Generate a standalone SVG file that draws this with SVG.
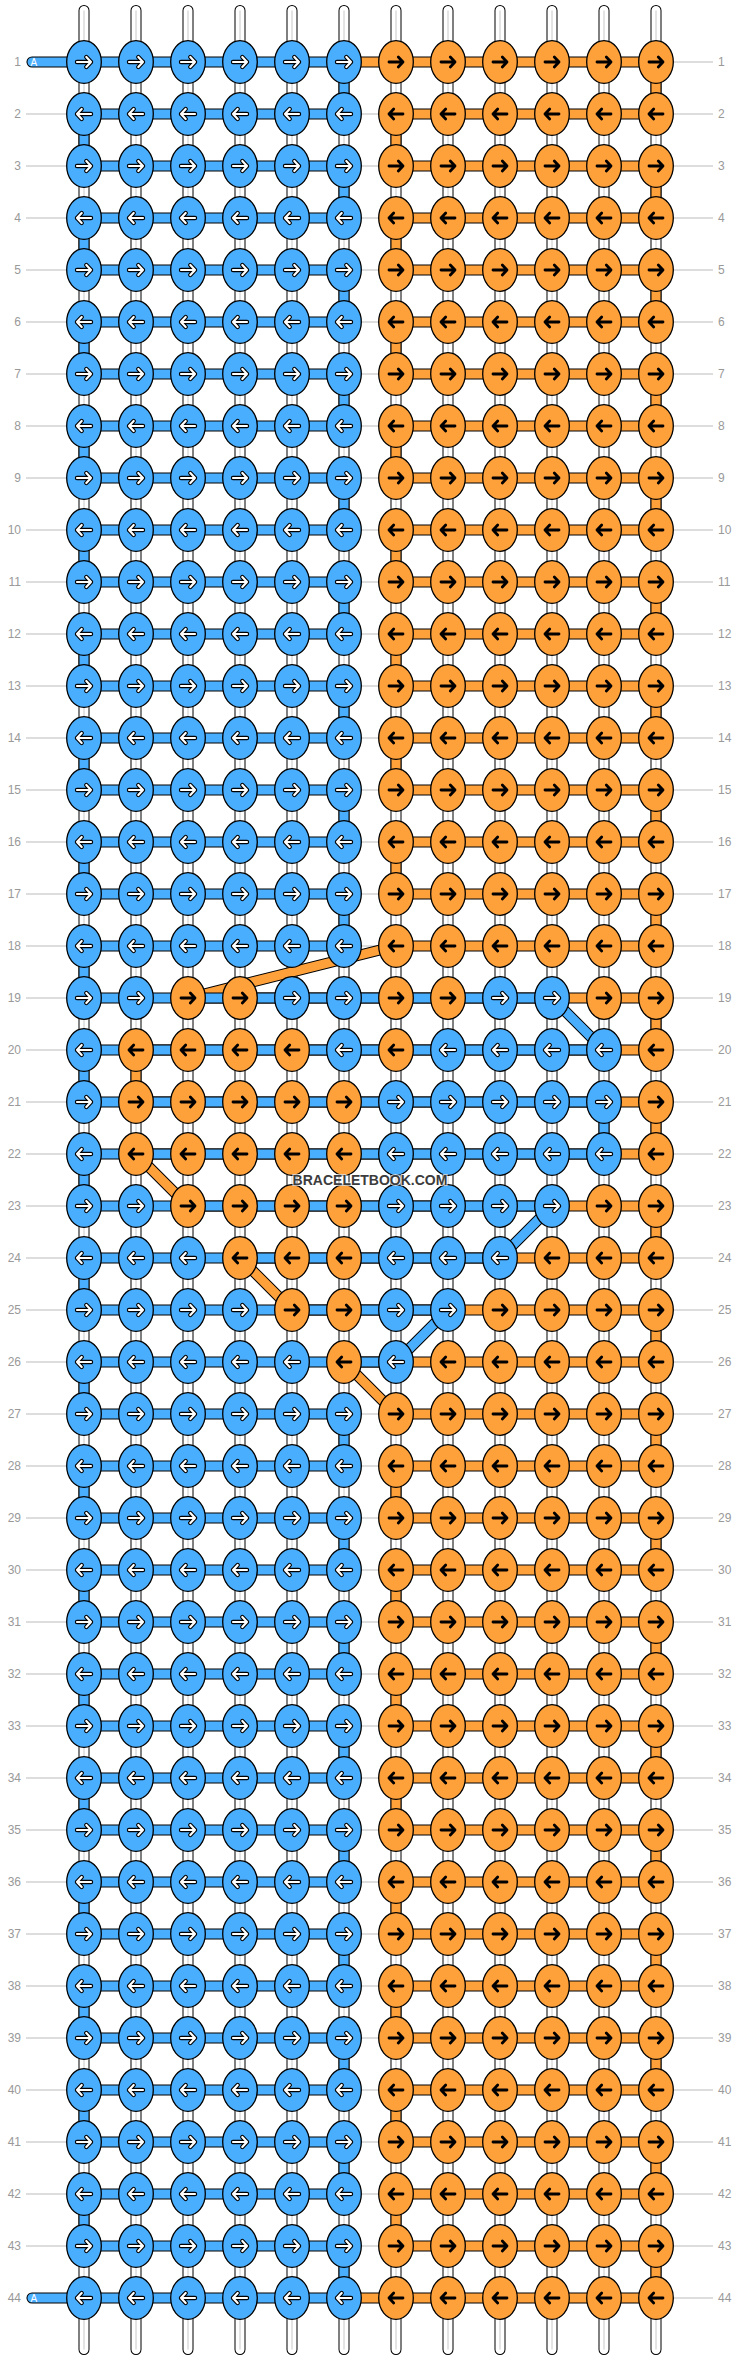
<svg xmlns="http://www.w3.org/2000/svg" xmlns:xlink="http://www.w3.org/1999/xlink" width="740" height="2360" viewBox="0 0 740 2360">
<style>
.rl{fill:none;stroke:#bbb;stroke-width:1}
.wo{fill:none;stroke:#000;stroke-width:11;stroke-linecap:round}
.wf{fill:none;stroke:#fff;stroke-width:9;stroke-linecap:round}
.wc{fill:none;stroke:#c8c8c8;stroke-width:1}
.to{fill:none;stroke:#000;stroke-width:11;stroke-linecap:round;stroke-linejoin:round}
.tb{fill:none;stroke:#4aaefe;stroke-width:9;stroke-linecap:round;stroke-linejoin:round}
.tr{fill:none;stroke:#ffa13b;stroke-width:9;stroke-linecap:round;stroke-linejoin:round}
.kb{fill:#4aaefe;stroke:#000;stroke-width:1.3}
.ko{fill:#ffa13b;stroke:#000;stroke-width:1.3}
.ao{fill:none;stroke:#000;stroke-width:4.4;stroke-linecap:round;stroke-linejoin:round}
.aw{fill:none;stroke:#fff;stroke-width:2.2;stroke-linecap:round;stroke-linejoin:round}
.ak{fill:none;stroke:#000;stroke-width:2.8;stroke-linecap:round;stroke-linejoin:round}
.ll{font-family:"Liberation Sans",Arial,sans-serif;font-size:12px;fill:#999;text-anchor:end}
.lr{font-family:"Liberation Sans",Arial,sans-serif;font-size:12px;fill:#999}
.a{font-family:"Liberation Sans",Arial,sans-serif;font-size:10px;fill:#fff}
.wm{font-family:"Liberation Sans",Arial,sans-serif;font-size:14px;font-weight:bold;fill:#3c3c3c;stroke:#fff;stroke-opacity:0.7;stroke-width:2;paint-order:stroke;text-anchor:middle}
</style>
<defs>
<path id="aR" d="M-7 0H7M2.3-5L7 0L2.3 5"/>
<path id="aL" d="M7 0H-7M-2.3-5L-7 0L-2.3 5"/>
<g id="bR"><ellipse class="kb" rx="17.3" ry="21.3"/><use href="#aR" class="ao"/><use href="#aR" class="aw"/></g>
<g id="bL"><ellipse class="kb" rx="17.3" ry="21.3"/><use href="#aL" class="ao"/><use href="#aL" class="aw"/></g>
<g id="oR"><ellipse class="ko" rx="17.3" ry="21.3"/><use href="#aR" class="ak"/></g>
<g id="oL"><ellipse class="ko" rx="17.3" ry="21.3"/><use href="#aL" class="ak"/></g>
<path id="ws" d="M84 10.5V2349.5M136 10.5V2349.5M188 10.5V2349.5M240 10.5V2349.5M292 10.5V2349.5M344 10.5V2349.5M396 10.5V2349.5M448 10.5V2349.5M500 10.5V2349.5M552 10.5V2349.5M604 10.5V2349.5M656 10.5V2349.5"/>
<path id="tbp" d="M32 62H344V114H84V166H344V218H84V270H344V322H84V374H344V426H84V478H344V530H84V582H344V634H84V686H344V738H84V790H344V842H84V894H344V946H84V998H552L604 1050H84V1102H604V1154H84V1206H552L500 1258H84V1310H448L396 1362H84V1414H344V1466H84V1518H344V1570H84V1622H344V1674H84V1726H344V1778H84V1830H344V1882H84V1934H344V1986H84V2038H344V2090H84V2142H344V2194H84V2246H344V2298H32"/>
<path id="top" d="M344 62H656V114H396V166H656V218H396V270H656V322H396V374H656V426H396V478H656V530H396V582H656V634H396V686H656V738H396V790H656V842H396V894H656V946H396L188 998H656V1050H136V1102H656V1154H136L188 1206H656V1258H240L292 1310H656V1362H344L396 1414H656V1466H396V1518H656V1570H396V1622H656V1674H396V1726H656V1778H396V1830H656V1882H396V1934H656V1986H396V2038H656V2090H396V2142H656V2194H396V2246H656V2298H344"/>
</defs>
<rect width="740" height="2360" fill="#fff"/>
<g id="connectors">
<path class="rl" d="M26 62H713M26 114H713M26 166H713M26 218H713M26 270H713M26 322H713M26 374H713M26 426H713M26 478H713M26 530H713M26 582H713M26 634H713M26 686H713M26 738H713M26 790H713M26 842H713M26 894H713M26 946H713M26 998H713M26 1050H713M26 1102H713M26 1154H713M26 1206H713M26 1258H713M26 1310H713M26 1362H713M26 1414H713M26 1466H713M26 1518H713M26 1570H713M26 1622H713M26 1674H713M26 1726H713M26 1778H713M26 1830H713M26 1882H713M26 1934H713M26 1986H713M26 2038H713M26 2090H713M26 2142H713M26 2194H713M26 2246H713M26 2298H713"/>
<use href="#ws" class="wo"/><use href="#ws" class="wf"/><use href="#ws" class="wc"/>
<use href="#top" class="to"/><use href="#top" class="tr"/>
<use href="#tbp" class="to"/><use href="#tbp" class="tb"/>
<text class="a" x="30.5" y="65.5">A</text>
<text class="a" x="30.5" y="2301.5">A</text>
</g>
<g id="labels">
<text class="ll" x="21" y="66">1</text><text class="lr" x="718" y="66">1</text>
<text class="ll" x="21" y="118">2</text><text class="lr" x="718" y="118">2</text>
<text class="ll" x="21" y="170">3</text><text class="lr" x="718" y="170">3</text>
<text class="ll" x="21" y="222">4</text><text class="lr" x="718" y="222">4</text>
<text class="ll" x="21" y="274">5</text><text class="lr" x="718" y="274">5</text>
<text class="ll" x="21" y="326">6</text><text class="lr" x="718" y="326">6</text>
<text class="ll" x="21" y="378">7</text><text class="lr" x="718" y="378">7</text>
<text class="ll" x="21" y="430">8</text><text class="lr" x="718" y="430">8</text>
<text class="ll" x="21" y="482">9</text><text class="lr" x="718" y="482">9</text>
<text class="ll" x="21" y="534">10</text><text class="lr" x="718" y="534">10</text>
<text class="ll" x="21" y="586">11</text><text class="lr" x="718" y="586">11</text>
<text class="ll" x="21" y="638">12</text><text class="lr" x="718" y="638">12</text>
<text class="ll" x="21" y="690">13</text><text class="lr" x="718" y="690">13</text>
<text class="ll" x="21" y="742">14</text><text class="lr" x="718" y="742">14</text>
<text class="ll" x="21" y="794">15</text><text class="lr" x="718" y="794">15</text>
<text class="ll" x="21" y="846">16</text><text class="lr" x="718" y="846">16</text>
<text class="ll" x="21" y="898">17</text><text class="lr" x="718" y="898">17</text>
<text class="ll" x="21" y="950">18</text><text class="lr" x="718" y="950">18</text>
<text class="ll" x="21" y="1002">19</text><text class="lr" x="718" y="1002">19</text>
<text class="ll" x="21" y="1054">20</text><text class="lr" x="718" y="1054">20</text>
<text class="ll" x="21" y="1106">21</text><text class="lr" x="718" y="1106">21</text>
<text class="ll" x="21" y="1158">22</text><text class="lr" x="718" y="1158">22</text>
<text class="ll" x="21" y="1210">23</text><text class="lr" x="718" y="1210">23</text>
<text class="ll" x="21" y="1262">24</text><text class="lr" x="718" y="1262">24</text>
<text class="ll" x="21" y="1314">25</text><text class="lr" x="718" y="1314">25</text>
<text class="ll" x="21" y="1366">26</text><text class="lr" x="718" y="1366">26</text>
<text class="ll" x="21" y="1418">27</text><text class="lr" x="718" y="1418">27</text>
<text class="ll" x="21" y="1470">28</text><text class="lr" x="718" y="1470">28</text>
<text class="ll" x="21" y="1522">29</text><text class="lr" x="718" y="1522">29</text>
<text class="ll" x="21" y="1574">30</text><text class="lr" x="718" y="1574">30</text>
<text class="ll" x="21" y="1626">31</text><text class="lr" x="718" y="1626">31</text>
<text class="ll" x="21" y="1678">32</text><text class="lr" x="718" y="1678">32</text>
<text class="ll" x="21" y="1730">33</text><text class="lr" x="718" y="1730">33</text>
<text class="ll" x="21" y="1782">34</text><text class="lr" x="718" y="1782">34</text>
<text class="ll" x="21" y="1834">35</text><text class="lr" x="718" y="1834">35</text>
<text class="ll" x="21" y="1886">36</text><text class="lr" x="718" y="1886">36</text>
<text class="ll" x="21" y="1938">37</text><text class="lr" x="718" y="1938">37</text>
<text class="ll" x="21" y="1990">38</text><text class="lr" x="718" y="1990">38</text>
<text class="ll" x="21" y="2042">39</text><text class="lr" x="718" y="2042">39</text>
<text class="ll" x="21" y="2094">40</text><text class="lr" x="718" y="2094">40</text>
<text class="ll" x="21" y="2146">41</text><text class="lr" x="718" y="2146">41</text>
<text class="ll" x="21" y="2198">42</text><text class="lr" x="718" y="2198">42</text>
<text class="ll" x="21" y="2250">43</text><text class="lr" x="718" y="2250">43</text>
<text class="ll" x="21" y="2302">44</text><text class="lr" x="718" y="2302">44</text>
</g>
<g id="knots">
<g id="row1" transform="translate(0,62)"><g id="k1-1"><use href="#bR" x="84"/></g><g id="k1-2"><use href="#bR" x="136"/></g><g id="k1-3"><use href="#bR" x="188"/></g><g id="k1-4"><use href="#bR" x="240"/></g><g id="k1-5"><use href="#bR" x="292"/></g><g id="k1-6"><use href="#bR" x="344"/></g><g id="k1-7"><use href="#oR" x="396"/></g><g id="k1-8"><use href="#oR" x="448"/></g><g id="k1-9"><use href="#oR" x="500"/></g><g id="k1-10"><use href="#oR" x="552"/></g><g id="k1-11"><use href="#oR" x="604"/></g><g id="k1-12"><use href="#oR" x="656"/></g></g>
<g id="row2" transform="translate(0,114)"><g id="k2-1"><use href="#bL" x="84"/></g><g id="k2-2"><use href="#bL" x="136"/></g><g id="k2-3"><use href="#bL" x="188"/></g><g id="k2-4"><use href="#bL" x="240"/></g><g id="k2-5"><use href="#bL" x="292"/></g><g id="k2-6"><use href="#bL" x="344"/></g><g id="k2-7"><use href="#oL" x="396"/></g><g id="k2-8"><use href="#oL" x="448"/></g><g id="k2-9"><use href="#oL" x="500"/></g><g id="k2-10"><use href="#oL" x="552"/></g><g id="k2-11"><use href="#oL" x="604"/></g><g id="k2-12"><use href="#oL" x="656"/></g></g>
<g id="row3" transform="translate(0,166)"><g id="k3-1"><use href="#bR" x="84"/></g><g id="k3-2"><use href="#bR" x="136"/></g><g id="k3-3"><use href="#bR" x="188"/></g><g id="k3-4"><use href="#bR" x="240"/></g><g id="k3-5"><use href="#bR" x="292"/></g><g id="k3-6"><use href="#bR" x="344"/></g><g id="k3-7"><use href="#oR" x="396"/></g><g id="k3-8"><use href="#oR" x="448"/></g><g id="k3-9"><use href="#oR" x="500"/></g><g id="k3-10"><use href="#oR" x="552"/></g><g id="k3-11"><use href="#oR" x="604"/></g><g id="k3-12"><use href="#oR" x="656"/></g></g>
<g id="row4" transform="translate(0,218)"><g id="k4-1"><use href="#bL" x="84"/></g><g id="k4-2"><use href="#bL" x="136"/></g><g id="k4-3"><use href="#bL" x="188"/></g><g id="k4-4"><use href="#bL" x="240"/></g><g id="k4-5"><use href="#bL" x="292"/></g><g id="k4-6"><use href="#bL" x="344"/></g><g id="k4-7"><use href="#oL" x="396"/></g><g id="k4-8"><use href="#oL" x="448"/></g><g id="k4-9"><use href="#oL" x="500"/></g><g id="k4-10"><use href="#oL" x="552"/></g><g id="k4-11"><use href="#oL" x="604"/></g><g id="k4-12"><use href="#oL" x="656"/></g></g>
<g id="row5" transform="translate(0,270)"><g id="k5-1"><use href="#bR" x="84"/></g><g id="k5-2"><use href="#bR" x="136"/></g><g id="k5-3"><use href="#bR" x="188"/></g><g id="k5-4"><use href="#bR" x="240"/></g><g id="k5-5"><use href="#bR" x="292"/></g><g id="k5-6"><use href="#bR" x="344"/></g><g id="k5-7"><use href="#oR" x="396"/></g><g id="k5-8"><use href="#oR" x="448"/></g><g id="k5-9"><use href="#oR" x="500"/></g><g id="k5-10"><use href="#oR" x="552"/></g><g id="k5-11"><use href="#oR" x="604"/></g><g id="k5-12"><use href="#oR" x="656"/></g></g>
<g id="row6" transform="translate(0,322)"><g id="k6-1"><use href="#bL" x="84"/></g><g id="k6-2"><use href="#bL" x="136"/></g><g id="k6-3"><use href="#bL" x="188"/></g><g id="k6-4"><use href="#bL" x="240"/></g><g id="k6-5"><use href="#bL" x="292"/></g><g id="k6-6"><use href="#bL" x="344"/></g><g id="k6-7"><use href="#oL" x="396"/></g><g id="k6-8"><use href="#oL" x="448"/></g><g id="k6-9"><use href="#oL" x="500"/></g><g id="k6-10"><use href="#oL" x="552"/></g><g id="k6-11"><use href="#oL" x="604"/></g><g id="k6-12"><use href="#oL" x="656"/></g></g>
<g id="row7" transform="translate(0,374)"><g id="k7-1"><use href="#bR" x="84"/></g><g id="k7-2"><use href="#bR" x="136"/></g><g id="k7-3"><use href="#bR" x="188"/></g><g id="k7-4"><use href="#bR" x="240"/></g><g id="k7-5"><use href="#bR" x="292"/></g><g id="k7-6"><use href="#bR" x="344"/></g><g id="k7-7"><use href="#oR" x="396"/></g><g id="k7-8"><use href="#oR" x="448"/></g><g id="k7-9"><use href="#oR" x="500"/></g><g id="k7-10"><use href="#oR" x="552"/></g><g id="k7-11"><use href="#oR" x="604"/></g><g id="k7-12"><use href="#oR" x="656"/></g></g>
<g id="row8" transform="translate(0,426)"><g id="k8-1"><use href="#bL" x="84"/></g><g id="k8-2"><use href="#bL" x="136"/></g><g id="k8-3"><use href="#bL" x="188"/></g><g id="k8-4"><use href="#bL" x="240"/></g><g id="k8-5"><use href="#bL" x="292"/></g><g id="k8-6"><use href="#bL" x="344"/></g><g id="k8-7"><use href="#oL" x="396"/></g><g id="k8-8"><use href="#oL" x="448"/></g><g id="k8-9"><use href="#oL" x="500"/></g><g id="k8-10"><use href="#oL" x="552"/></g><g id="k8-11"><use href="#oL" x="604"/></g><g id="k8-12"><use href="#oL" x="656"/></g></g>
<g id="row9" transform="translate(0,478)"><g id="k9-1"><use href="#bR" x="84"/></g><g id="k9-2"><use href="#bR" x="136"/></g><g id="k9-3"><use href="#bR" x="188"/></g><g id="k9-4"><use href="#bR" x="240"/></g><g id="k9-5"><use href="#bR" x="292"/></g><g id="k9-6"><use href="#bR" x="344"/></g><g id="k9-7"><use href="#oR" x="396"/></g><g id="k9-8"><use href="#oR" x="448"/></g><g id="k9-9"><use href="#oR" x="500"/></g><g id="k9-10"><use href="#oR" x="552"/></g><g id="k9-11"><use href="#oR" x="604"/></g><g id="k9-12"><use href="#oR" x="656"/></g></g>
<g id="row10" transform="translate(0,530)"><g id="k10-1"><use href="#bL" x="84"/></g><g id="k10-2"><use href="#bL" x="136"/></g><g id="k10-3"><use href="#bL" x="188"/></g><g id="k10-4"><use href="#bL" x="240"/></g><g id="k10-5"><use href="#bL" x="292"/></g><g id="k10-6"><use href="#bL" x="344"/></g><g id="k10-7"><use href="#oL" x="396"/></g><g id="k10-8"><use href="#oL" x="448"/></g><g id="k10-9"><use href="#oL" x="500"/></g><g id="k10-10"><use href="#oL" x="552"/></g><g id="k10-11"><use href="#oL" x="604"/></g><g id="k10-12"><use href="#oL" x="656"/></g></g>
<g id="row11" transform="translate(0,582)"><g id="k11-1"><use href="#bR" x="84"/></g><g id="k11-2"><use href="#bR" x="136"/></g><g id="k11-3"><use href="#bR" x="188"/></g><g id="k11-4"><use href="#bR" x="240"/></g><g id="k11-5"><use href="#bR" x="292"/></g><g id="k11-6"><use href="#bR" x="344"/></g><g id="k11-7"><use href="#oR" x="396"/></g><g id="k11-8"><use href="#oR" x="448"/></g><g id="k11-9"><use href="#oR" x="500"/></g><g id="k11-10"><use href="#oR" x="552"/></g><g id="k11-11"><use href="#oR" x="604"/></g><g id="k11-12"><use href="#oR" x="656"/></g></g>
<g id="row12" transform="translate(0,634)"><g id="k12-1"><use href="#bL" x="84"/></g><g id="k12-2"><use href="#bL" x="136"/></g><g id="k12-3"><use href="#bL" x="188"/></g><g id="k12-4"><use href="#bL" x="240"/></g><g id="k12-5"><use href="#bL" x="292"/></g><g id="k12-6"><use href="#bL" x="344"/></g><g id="k12-7"><use href="#oL" x="396"/></g><g id="k12-8"><use href="#oL" x="448"/></g><g id="k12-9"><use href="#oL" x="500"/></g><g id="k12-10"><use href="#oL" x="552"/></g><g id="k12-11"><use href="#oL" x="604"/></g><g id="k12-12"><use href="#oL" x="656"/></g></g>
<g id="row13" transform="translate(0,686)"><g id="k13-1"><use href="#bR" x="84"/></g><g id="k13-2"><use href="#bR" x="136"/></g><g id="k13-3"><use href="#bR" x="188"/></g><g id="k13-4"><use href="#bR" x="240"/></g><g id="k13-5"><use href="#bR" x="292"/></g><g id="k13-6"><use href="#bR" x="344"/></g><g id="k13-7"><use href="#oR" x="396"/></g><g id="k13-8"><use href="#oR" x="448"/></g><g id="k13-9"><use href="#oR" x="500"/></g><g id="k13-10"><use href="#oR" x="552"/></g><g id="k13-11"><use href="#oR" x="604"/></g><g id="k13-12"><use href="#oR" x="656"/></g></g>
<g id="row14" transform="translate(0,738)"><g id="k14-1"><use href="#bL" x="84"/></g><g id="k14-2"><use href="#bL" x="136"/></g><g id="k14-3"><use href="#bL" x="188"/></g><g id="k14-4"><use href="#bL" x="240"/></g><g id="k14-5"><use href="#bL" x="292"/></g><g id="k14-6"><use href="#bL" x="344"/></g><g id="k14-7"><use href="#oL" x="396"/></g><g id="k14-8"><use href="#oL" x="448"/></g><g id="k14-9"><use href="#oL" x="500"/></g><g id="k14-10"><use href="#oL" x="552"/></g><g id="k14-11"><use href="#oL" x="604"/></g><g id="k14-12"><use href="#oL" x="656"/></g></g>
<g id="row15" transform="translate(0,790)"><g id="k15-1"><use href="#bR" x="84"/></g><g id="k15-2"><use href="#bR" x="136"/></g><g id="k15-3"><use href="#bR" x="188"/></g><g id="k15-4"><use href="#bR" x="240"/></g><g id="k15-5"><use href="#bR" x="292"/></g><g id="k15-6"><use href="#bR" x="344"/></g><g id="k15-7"><use href="#oR" x="396"/></g><g id="k15-8"><use href="#oR" x="448"/></g><g id="k15-9"><use href="#oR" x="500"/></g><g id="k15-10"><use href="#oR" x="552"/></g><g id="k15-11"><use href="#oR" x="604"/></g><g id="k15-12"><use href="#oR" x="656"/></g></g>
<g id="row16" transform="translate(0,842)"><g id="k16-1"><use href="#bL" x="84"/></g><g id="k16-2"><use href="#bL" x="136"/></g><g id="k16-3"><use href="#bL" x="188"/></g><g id="k16-4"><use href="#bL" x="240"/></g><g id="k16-5"><use href="#bL" x="292"/></g><g id="k16-6"><use href="#bL" x="344"/></g><g id="k16-7"><use href="#oL" x="396"/></g><g id="k16-8"><use href="#oL" x="448"/></g><g id="k16-9"><use href="#oL" x="500"/></g><g id="k16-10"><use href="#oL" x="552"/></g><g id="k16-11"><use href="#oL" x="604"/></g><g id="k16-12"><use href="#oL" x="656"/></g></g>
<g id="row17" transform="translate(0,894)"><g id="k17-1"><use href="#bR" x="84"/></g><g id="k17-2"><use href="#bR" x="136"/></g><g id="k17-3"><use href="#bR" x="188"/></g><g id="k17-4"><use href="#bR" x="240"/></g><g id="k17-5"><use href="#bR" x="292"/></g><g id="k17-6"><use href="#bR" x="344"/></g><g id="k17-7"><use href="#oR" x="396"/></g><g id="k17-8"><use href="#oR" x="448"/></g><g id="k17-9"><use href="#oR" x="500"/></g><g id="k17-10"><use href="#oR" x="552"/></g><g id="k17-11"><use href="#oR" x="604"/></g><g id="k17-12"><use href="#oR" x="656"/></g></g>
<g id="row18" transform="translate(0,946)"><g id="k18-1"><use href="#bL" x="84"/></g><g id="k18-2"><use href="#bL" x="136"/></g><g id="k18-3"><use href="#bL" x="188"/></g><g id="k18-4"><use href="#bL" x="240"/></g><g id="k18-5"><use href="#bL" x="292"/></g><g id="k18-6"><use href="#bL" x="344"/></g><g id="k18-7"><use href="#oL" x="396"/></g><g id="k18-8"><use href="#oL" x="448"/></g><g id="k18-9"><use href="#oL" x="500"/></g><g id="k18-10"><use href="#oL" x="552"/></g><g id="k18-11"><use href="#oL" x="604"/></g><g id="k18-12"><use href="#oL" x="656"/></g></g>
<g id="row19" transform="translate(0,998)"><g id="k19-1"><use href="#bR" x="84"/></g><g id="k19-2"><use href="#bR" x="136"/></g><g id="k19-3"><use href="#oR" x="188"/></g><g id="k19-4"><use href="#oR" x="240"/></g><g id="k19-5"><use href="#bR" x="292"/></g><g id="k19-6"><use href="#bR" x="344"/></g><g id="k19-7"><use href="#oR" x="396"/></g><g id="k19-8"><use href="#oR" x="448"/></g><g id="k19-9"><use href="#bR" x="500"/></g><g id="k19-10"><use href="#bR" x="552"/></g><g id="k19-11"><use href="#oR" x="604"/></g><g id="k19-12"><use href="#oR" x="656"/></g></g>
<g id="row20" transform="translate(0,1050)"><g id="k20-1"><use href="#bL" x="84"/></g><g id="k20-2"><use href="#oL" x="136"/></g><g id="k20-3"><use href="#oL" x="188"/></g><g id="k20-4"><use href="#oL" x="240"/></g><g id="k20-5"><use href="#oL" x="292"/></g><g id="k20-6"><use href="#bL" x="344"/></g><g id="k20-7"><use href="#oL" x="396"/></g><g id="k20-8"><use href="#bL" x="448"/></g><g id="k20-9"><use href="#bL" x="500"/></g><g id="k20-10"><use href="#bL" x="552"/></g><g id="k20-11"><use href="#bL" x="604"/></g><g id="k20-12"><use href="#oL" x="656"/></g></g>
<g id="row21" transform="translate(0,1102)"><g id="k21-1"><use href="#bR" x="84"/></g><g id="k21-2"><use href="#oR" x="136"/></g><g id="k21-3"><use href="#oR" x="188"/></g><g id="k21-4"><use href="#oR" x="240"/></g><g id="k21-5"><use href="#oR" x="292"/></g><g id="k21-6"><use href="#oR" x="344"/></g><g id="k21-7"><use href="#bR" x="396"/></g><g id="k21-8"><use href="#bR" x="448"/></g><g id="k21-9"><use href="#bR" x="500"/></g><g id="k21-10"><use href="#bR" x="552"/></g><g id="k21-11"><use href="#bR" x="604"/></g><g id="k21-12"><use href="#oR" x="656"/></g></g>
<g id="row22" transform="translate(0,1154)"><g id="k22-1"><use href="#bL" x="84"/></g><g id="k22-2"><use href="#oL" x="136"/></g><g id="k22-3"><use href="#oL" x="188"/></g><g id="k22-4"><use href="#oL" x="240"/></g><g id="k22-5"><use href="#oL" x="292"/></g><g id="k22-6"><use href="#oL" x="344"/></g><g id="k22-7"><use href="#bL" x="396"/></g><g id="k22-8"><use href="#bL" x="448"/></g><g id="k22-9"><use href="#bL" x="500"/></g><g id="k22-10"><use href="#bL" x="552"/></g><g id="k22-11"><use href="#bL" x="604"/></g><g id="k22-12"><use href="#oL" x="656"/></g></g>
<g id="row23" transform="translate(0,1206)"><g id="k23-1"><use href="#bR" x="84"/></g><g id="k23-2"><use href="#bR" x="136"/></g><g id="k23-3"><use href="#oR" x="188"/></g><g id="k23-4"><use href="#oR" x="240"/></g><g id="k23-5"><use href="#oR" x="292"/></g><g id="k23-6"><use href="#oR" x="344"/></g><g id="k23-7"><use href="#bR" x="396"/></g><g id="k23-8"><use href="#bR" x="448"/></g><g id="k23-9"><use href="#bR" x="500"/></g><g id="k23-10"><use href="#bR" x="552"/></g><g id="k23-11"><use href="#oR" x="604"/></g><g id="k23-12"><use href="#oR" x="656"/></g></g>
<g id="row24" transform="translate(0,1258)"><g id="k24-1"><use href="#bL" x="84"/></g><g id="k24-2"><use href="#bL" x="136"/></g><g id="k24-3"><use href="#bL" x="188"/></g><g id="k24-4"><use href="#oL" x="240"/></g><g id="k24-5"><use href="#oL" x="292"/></g><g id="k24-6"><use href="#oL" x="344"/></g><g id="k24-7"><use href="#bL" x="396"/></g><g id="k24-8"><use href="#bL" x="448"/></g><g id="k24-9"><use href="#bL" x="500"/></g><g id="k24-10"><use href="#oL" x="552"/></g><g id="k24-11"><use href="#oL" x="604"/></g><g id="k24-12"><use href="#oL" x="656"/></g></g>
<g id="row25" transform="translate(0,1310)"><g id="k25-1"><use href="#bR" x="84"/></g><g id="k25-2"><use href="#bR" x="136"/></g><g id="k25-3"><use href="#bR" x="188"/></g><g id="k25-4"><use href="#bR" x="240"/></g><g id="k25-5"><use href="#oR" x="292"/></g><g id="k25-6"><use href="#oR" x="344"/></g><g id="k25-7"><use href="#bR" x="396"/></g><g id="k25-8"><use href="#bR" x="448"/></g><g id="k25-9"><use href="#oR" x="500"/></g><g id="k25-10"><use href="#oR" x="552"/></g><g id="k25-11"><use href="#oR" x="604"/></g><g id="k25-12"><use href="#oR" x="656"/></g></g>
<g id="row26" transform="translate(0,1362)"><g id="k26-1"><use href="#bL" x="84"/></g><g id="k26-2"><use href="#bL" x="136"/></g><g id="k26-3"><use href="#bL" x="188"/></g><g id="k26-4"><use href="#bL" x="240"/></g><g id="k26-5"><use href="#bL" x="292"/></g><g id="k26-6"><use href="#oL" x="344"/></g><g id="k26-7"><use href="#bL" x="396"/></g><g id="k26-8"><use href="#oL" x="448"/></g><g id="k26-9"><use href="#oL" x="500"/></g><g id="k26-10"><use href="#oL" x="552"/></g><g id="k26-11"><use href="#oL" x="604"/></g><g id="k26-12"><use href="#oL" x="656"/></g></g>
<g id="row27" transform="translate(0,1414)"><g id="k27-1"><use href="#bR" x="84"/></g><g id="k27-2"><use href="#bR" x="136"/></g><g id="k27-3"><use href="#bR" x="188"/></g><g id="k27-4"><use href="#bR" x="240"/></g><g id="k27-5"><use href="#bR" x="292"/></g><g id="k27-6"><use href="#bR" x="344"/></g><g id="k27-7"><use href="#oR" x="396"/></g><g id="k27-8"><use href="#oR" x="448"/></g><g id="k27-9"><use href="#oR" x="500"/></g><g id="k27-10"><use href="#oR" x="552"/></g><g id="k27-11"><use href="#oR" x="604"/></g><g id="k27-12"><use href="#oR" x="656"/></g></g>
<g id="row28" transform="translate(0,1466)"><g id="k28-1"><use href="#bL" x="84"/></g><g id="k28-2"><use href="#bL" x="136"/></g><g id="k28-3"><use href="#bL" x="188"/></g><g id="k28-4"><use href="#bL" x="240"/></g><g id="k28-5"><use href="#bL" x="292"/></g><g id="k28-6"><use href="#bL" x="344"/></g><g id="k28-7"><use href="#oL" x="396"/></g><g id="k28-8"><use href="#oL" x="448"/></g><g id="k28-9"><use href="#oL" x="500"/></g><g id="k28-10"><use href="#oL" x="552"/></g><g id="k28-11"><use href="#oL" x="604"/></g><g id="k28-12"><use href="#oL" x="656"/></g></g>
<g id="row29" transform="translate(0,1518)"><g id="k29-1"><use href="#bR" x="84"/></g><g id="k29-2"><use href="#bR" x="136"/></g><g id="k29-3"><use href="#bR" x="188"/></g><g id="k29-4"><use href="#bR" x="240"/></g><g id="k29-5"><use href="#bR" x="292"/></g><g id="k29-6"><use href="#bR" x="344"/></g><g id="k29-7"><use href="#oR" x="396"/></g><g id="k29-8"><use href="#oR" x="448"/></g><g id="k29-9"><use href="#oR" x="500"/></g><g id="k29-10"><use href="#oR" x="552"/></g><g id="k29-11"><use href="#oR" x="604"/></g><g id="k29-12"><use href="#oR" x="656"/></g></g>
<g id="row30" transform="translate(0,1570)"><g id="k30-1"><use href="#bL" x="84"/></g><g id="k30-2"><use href="#bL" x="136"/></g><g id="k30-3"><use href="#bL" x="188"/></g><g id="k30-4"><use href="#bL" x="240"/></g><g id="k30-5"><use href="#bL" x="292"/></g><g id="k30-6"><use href="#bL" x="344"/></g><g id="k30-7"><use href="#oL" x="396"/></g><g id="k30-8"><use href="#oL" x="448"/></g><g id="k30-9"><use href="#oL" x="500"/></g><g id="k30-10"><use href="#oL" x="552"/></g><g id="k30-11"><use href="#oL" x="604"/></g><g id="k30-12"><use href="#oL" x="656"/></g></g>
<g id="row31" transform="translate(0,1622)"><g id="k31-1"><use href="#bR" x="84"/></g><g id="k31-2"><use href="#bR" x="136"/></g><g id="k31-3"><use href="#bR" x="188"/></g><g id="k31-4"><use href="#bR" x="240"/></g><g id="k31-5"><use href="#bR" x="292"/></g><g id="k31-6"><use href="#bR" x="344"/></g><g id="k31-7"><use href="#oR" x="396"/></g><g id="k31-8"><use href="#oR" x="448"/></g><g id="k31-9"><use href="#oR" x="500"/></g><g id="k31-10"><use href="#oR" x="552"/></g><g id="k31-11"><use href="#oR" x="604"/></g><g id="k31-12"><use href="#oR" x="656"/></g></g>
<g id="row32" transform="translate(0,1674)"><g id="k32-1"><use href="#bL" x="84"/></g><g id="k32-2"><use href="#bL" x="136"/></g><g id="k32-3"><use href="#bL" x="188"/></g><g id="k32-4"><use href="#bL" x="240"/></g><g id="k32-5"><use href="#bL" x="292"/></g><g id="k32-6"><use href="#bL" x="344"/></g><g id="k32-7"><use href="#oL" x="396"/></g><g id="k32-8"><use href="#oL" x="448"/></g><g id="k32-9"><use href="#oL" x="500"/></g><g id="k32-10"><use href="#oL" x="552"/></g><g id="k32-11"><use href="#oL" x="604"/></g><g id="k32-12"><use href="#oL" x="656"/></g></g>
<g id="row33" transform="translate(0,1726)"><g id="k33-1"><use href="#bR" x="84"/></g><g id="k33-2"><use href="#bR" x="136"/></g><g id="k33-3"><use href="#bR" x="188"/></g><g id="k33-4"><use href="#bR" x="240"/></g><g id="k33-5"><use href="#bR" x="292"/></g><g id="k33-6"><use href="#bR" x="344"/></g><g id="k33-7"><use href="#oR" x="396"/></g><g id="k33-8"><use href="#oR" x="448"/></g><g id="k33-9"><use href="#oR" x="500"/></g><g id="k33-10"><use href="#oR" x="552"/></g><g id="k33-11"><use href="#oR" x="604"/></g><g id="k33-12"><use href="#oR" x="656"/></g></g>
<g id="row34" transform="translate(0,1778)"><g id="k34-1"><use href="#bL" x="84"/></g><g id="k34-2"><use href="#bL" x="136"/></g><g id="k34-3"><use href="#bL" x="188"/></g><g id="k34-4"><use href="#bL" x="240"/></g><g id="k34-5"><use href="#bL" x="292"/></g><g id="k34-6"><use href="#bL" x="344"/></g><g id="k34-7"><use href="#oL" x="396"/></g><g id="k34-8"><use href="#oL" x="448"/></g><g id="k34-9"><use href="#oL" x="500"/></g><g id="k34-10"><use href="#oL" x="552"/></g><g id="k34-11"><use href="#oL" x="604"/></g><g id="k34-12"><use href="#oL" x="656"/></g></g>
<g id="row35" transform="translate(0,1830)"><g id="k35-1"><use href="#bR" x="84"/></g><g id="k35-2"><use href="#bR" x="136"/></g><g id="k35-3"><use href="#bR" x="188"/></g><g id="k35-4"><use href="#bR" x="240"/></g><g id="k35-5"><use href="#bR" x="292"/></g><g id="k35-6"><use href="#bR" x="344"/></g><g id="k35-7"><use href="#oR" x="396"/></g><g id="k35-8"><use href="#oR" x="448"/></g><g id="k35-9"><use href="#oR" x="500"/></g><g id="k35-10"><use href="#oR" x="552"/></g><g id="k35-11"><use href="#oR" x="604"/></g><g id="k35-12"><use href="#oR" x="656"/></g></g>
<g id="row36" transform="translate(0,1882)"><g id="k36-1"><use href="#bL" x="84"/></g><g id="k36-2"><use href="#bL" x="136"/></g><g id="k36-3"><use href="#bL" x="188"/></g><g id="k36-4"><use href="#bL" x="240"/></g><g id="k36-5"><use href="#bL" x="292"/></g><g id="k36-6"><use href="#bL" x="344"/></g><g id="k36-7"><use href="#oL" x="396"/></g><g id="k36-8"><use href="#oL" x="448"/></g><g id="k36-9"><use href="#oL" x="500"/></g><g id="k36-10"><use href="#oL" x="552"/></g><g id="k36-11"><use href="#oL" x="604"/></g><g id="k36-12"><use href="#oL" x="656"/></g></g>
<g id="row37" transform="translate(0,1934)"><g id="k37-1"><use href="#bR" x="84"/></g><g id="k37-2"><use href="#bR" x="136"/></g><g id="k37-3"><use href="#bR" x="188"/></g><g id="k37-4"><use href="#bR" x="240"/></g><g id="k37-5"><use href="#bR" x="292"/></g><g id="k37-6"><use href="#bR" x="344"/></g><g id="k37-7"><use href="#oR" x="396"/></g><g id="k37-8"><use href="#oR" x="448"/></g><g id="k37-9"><use href="#oR" x="500"/></g><g id="k37-10"><use href="#oR" x="552"/></g><g id="k37-11"><use href="#oR" x="604"/></g><g id="k37-12"><use href="#oR" x="656"/></g></g>
<g id="row38" transform="translate(0,1986)"><g id="k38-1"><use href="#bL" x="84"/></g><g id="k38-2"><use href="#bL" x="136"/></g><g id="k38-3"><use href="#bL" x="188"/></g><g id="k38-4"><use href="#bL" x="240"/></g><g id="k38-5"><use href="#bL" x="292"/></g><g id="k38-6"><use href="#bL" x="344"/></g><g id="k38-7"><use href="#oL" x="396"/></g><g id="k38-8"><use href="#oL" x="448"/></g><g id="k38-9"><use href="#oL" x="500"/></g><g id="k38-10"><use href="#oL" x="552"/></g><g id="k38-11"><use href="#oL" x="604"/></g><g id="k38-12"><use href="#oL" x="656"/></g></g>
<g id="row39" transform="translate(0,2038)"><g id="k39-1"><use href="#bR" x="84"/></g><g id="k39-2"><use href="#bR" x="136"/></g><g id="k39-3"><use href="#bR" x="188"/></g><g id="k39-4"><use href="#bR" x="240"/></g><g id="k39-5"><use href="#bR" x="292"/></g><g id="k39-6"><use href="#bR" x="344"/></g><g id="k39-7"><use href="#oR" x="396"/></g><g id="k39-8"><use href="#oR" x="448"/></g><g id="k39-9"><use href="#oR" x="500"/></g><g id="k39-10"><use href="#oR" x="552"/></g><g id="k39-11"><use href="#oR" x="604"/></g><g id="k39-12"><use href="#oR" x="656"/></g></g>
<g id="row40" transform="translate(0,2090)"><g id="k40-1"><use href="#bL" x="84"/></g><g id="k40-2"><use href="#bL" x="136"/></g><g id="k40-3"><use href="#bL" x="188"/></g><g id="k40-4"><use href="#bL" x="240"/></g><g id="k40-5"><use href="#bL" x="292"/></g><g id="k40-6"><use href="#bL" x="344"/></g><g id="k40-7"><use href="#oL" x="396"/></g><g id="k40-8"><use href="#oL" x="448"/></g><g id="k40-9"><use href="#oL" x="500"/></g><g id="k40-10"><use href="#oL" x="552"/></g><g id="k40-11"><use href="#oL" x="604"/></g><g id="k40-12"><use href="#oL" x="656"/></g></g>
<g id="row41" transform="translate(0,2142)"><g id="k41-1"><use href="#bR" x="84"/></g><g id="k41-2"><use href="#bR" x="136"/></g><g id="k41-3"><use href="#bR" x="188"/></g><g id="k41-4"><use href="#bR" x="240"/></g><g id="k41-5"><use href="#bR" x="292"/></g><g id="k41-6"><use href="#bR" x="344"/></g><g id="k41-7"><use href="#oR" x="396"/></g><g id="k41-8"><use href="#oR" x="448"/></g><g id="k41-9"><use href="#oR" x="500"/></g><g id="k41-10"><use href="#oR" x="552"/></g><g id="k41-11"><use href="#oR" x="604"/></g><g id="k41-12"><use href="#oR" x="656"/></g></g>
<g id="row42" transform="translate(0,2194)"><g id="k42-1"><use href="#bL" x="84"/></g><g id="k42-2"><use href="#bL" x="136"/></g><g id="k42-3"><use href="#bL" x="188"/></g><g id="k42-4"><use href="#bL" x="240"/></g><g id="k42-5"><use href="#bL" x="292"/></g><g id="k42-6"><use href="#bL" x="344"/></g><g id="k42-7"><use href="#oL" x="396"/></g><g id="k42-8"><use href="#oL" x="448"/></g><g id="k42-9"><use href="#oL" x="500"/></g><g id="k42-10"><use href="#oL" x="552"/></g><g id="k42-11"><use href="#oL" x="604"/></g><g id="k42-12"><use href="#oL" x="656"/></g></g>
<g id="row43" transform="translate(0,2246)"><g id="k43-1"><use href="#bR" x="84"/></g><g id="k43-2"><use href="#bR" x="136"/></g><g id="k43-3"><use href="#bR" x="188"/></g><g id="k43-4"><use href="#bR" x="240"/></g><g id="k43-5"><use href="#bR" x="292"/></g><g id="k43-6"><use href="#bR" x="344"/></g><g id="k43-7"><use href="#oR" x="396"/></g><g id="k43-8"><use href="#oR" x="448"/></g><g id="k43-9"><use href="#oR" x="500"/></g><g id="k43-10"><use href="#oR" x="552"/></g><g id="k43-11"><use href="#oR" x="604"/></g><g id="k43-12"><use href="#oR" x="656"/></g></g>
<g id="row44" transform="translate(0,2298)"><g id="k44-1"><use href="#bL" x="84"/></g><g id="k44-2"><use href="#bL" x="136"/></g><g id="k44-3"><use href="#bL" x="188"/></g><g id="k44-4"><use href="#bL" x="240"/></g><g id="k44-5"><use href="#bL" x="292"/></g><g id="k44-6"><use href="#bL" x="344"/></g><g id="k44-7"><use href="#oL" x="396"/></g><g id="k44-8"><use href="#oL" x="448"/></g><g id="k44-9"><use href="#oL" x="500"/></g><g id="k44-10"><use href="#oL" x="552"/></g><g id="k44-11"><use href="#oL" x="604"/></g><g id="k44-12"><use href="#oL" x="656"/></g></g>
</g>
<text id="watermark" class="wm" x="370" y="1185">BRACELETBOOK.COM</text>
</svg>
